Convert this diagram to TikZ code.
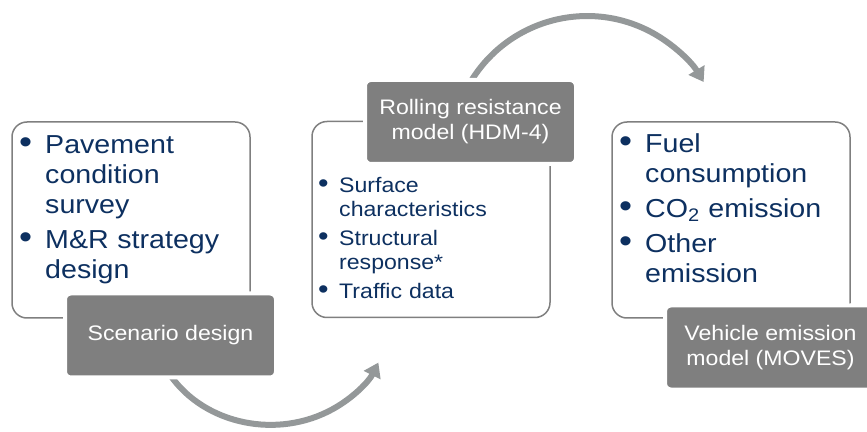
\documentclass[tikz,border=0pt]{standalone}
\usepackage{fontspec}
\setmainfont{Liberation Sans}[FakeStretch=1.1]
\usepackage{tikz}
\usetikzlibrary{arrows.meta}

\definecolor{boxgray}{RGB}{127,127,127}
\definecolor{arrowgray}{RGB}{148,152,153}
\definecolor{textblue}{RGB}{13,48,96}

% bullet list with the bullet flush left
\newcommand{\bigdot}{\scalebox{1.3}{\textbullet}}
\newenvironment{dotlist}[1]{\begin{list}{\bigdot}{%
  \setlength\leftmargin{#1}\setlength\labelwidth{#1}\setlength\labelsep{0pt}%
  \setlength\itemsep{5pt}\setlength\parsep{0pt}\setlength\topsep{0pt}%
  \setlength\partopsep{0pt}\def\makelabel##1{##1\hfil}}}{\end{list}}

\tikzset{
  outerbox/.style={draw=boxgray, line width=1.5pt, rounded corners=15pt,
    minimum width=238pt, minimum height=196pt, inner sep=0pt},
  modelbox/.style={fill=boxgray, draw=white, line width=4pt, rounded corners=6pt,
    minimum width=211pt, minimum height=84pt, text=white, align=center,
    font=\fontsize{21}{25}\selectfont},
  bigtext/.style={anchor=north west, inner sep=0pt, text=textblue,
    text width=215pt, font=\fontsize{26}{30}\selectfont},
  smalltext/.style={anchor=north west, inner sep=0pt, text=textblue,
    text width=220pt, font=\fontsize{21}{24}\selectfont},
  cycle/.style={draw=arrowgray, line width=6pt, -{Triangle[width=18pt,length=14pt]}}
}

\begin{document}
\begin{tikzpicture}[x=1pt, y=1pt]
\useasboundingbox (0, 0) rectangle (867, 431);

\coordinate (scenout) at (170.5, 55.5);
\coordinate (rollout) at (470.5, 349);

\draw [cycle] (scenout) arc [start angle=212, end angle=336, x radius=118, y radius=105];
\draw [cycle] (rollout) arc [start angle=149, end angle=31, radius=136];

\node [outerbox] (box1) at (131, 211) {};
\node [outerbox] (box2) at (431, 211.5) {};
\node [outerbox] (box3) at (731, 211) {};

\node [bigtext] (list1) at (19, 308) {\begin{dotlist}{26pt}
  \item Pavement\newline condition\newline survey
  \item M\&R strategy\newline design
\end{dotlist}};
\node [smalltext] (list2) at (318, 263) {\begin{dotlist}{21pt}
  \item Surface\newline characteristics
  \item Structural\newline response*
  \item Traffic data
\end{dotlist}};
\node [bigtext] (list3) at (619, 309) {\begin{dotlist}{26pt}
  \item Fuel\newline consumption
  \item CO\textsubscript{2} emission
  \item Other\newline emission
\end{dotlist}};

\node [modelbox] (scen) at (170.5, 95.5) {Scenario design};
\node [modelbox] (roll) at (470.5, 309) {Rolling resistance\\model (HDM-4)};
\node [modelbox] (vehi) at (770.5, 83.5) {Vehicle emission\\model (MOVES)};
\end{tikzpicture}
\end{document}
